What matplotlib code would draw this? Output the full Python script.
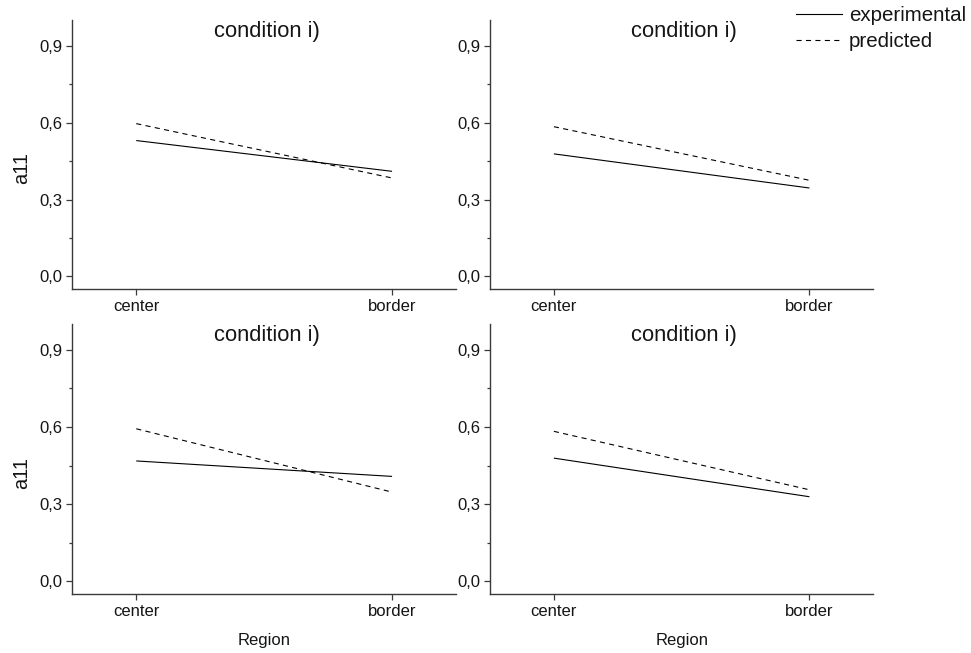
import matplotlib
matplotlib.use("Agg")
import matplotlib.pyplot as plt
from matplotlib.lines import Line2D

plt.rcParams['font.family'] = ['Liberation Sans', 'DejaVu Sans']

regions = ["center", "border"]
panel_titles = ["condition i)", "condition i)", "condition i)", "condition i)"]
experimental = [
    [0.530, 0.410],
    [0.478, 0.345],
    [0.468, 0.408],
    [0.479, 0.329],
]
predicted = [
    [0.596, 0.384],
    [0.584, 0.375],
    [0.593, 0.347],
    [0.583, 0.356],
]
y_major = [0.0, 0.3, 0.6, 0.9]
y_major_labels = ["0,0", "0,3", "0,6", "0,9"]
y_minor = [0.15, 0.45, 0.75]
series_labels = ["experimental", "predicted"]
y_label = "a11"
x_label = "Region"

W, H = 971, 653
fig = plt.figure(figsize=(W / 100, H / 100), dpi=100)

spine_c = "#3a3a3a"
txt_c = "#151515"
# pixel boxes: left, top, right, bottom
boxes = [
    (72.3, 20.0, 456.0, 289.3),
    (490.0, 20.0, 873.3, 289.3),
    (72.3, 324.0, 456.0, 594.3),
    (490.0, 324.0, 873.3, 594.3),
]
dash = (0, (4.6, 3.9))
for i, (l, t, r, b) in enumerate(boxes):
    ax = fig.add_axes([l / W, 1 - b / H, (r - l) / W, (b - t) / H])
    x = list(range(len(regions)))
    ax.plot(x, experimental[i], color="black", lw=0.8, solid_capstyle="butt")
    ax.plot(x, predicted[i], color="black", lw=0.8, linestyle=dash)
    ax.set_xlim(-0.25, 1.25)
    ax.set_ylim(-0.05, 1.0)
    ax.set_xticks(x)
    ax.set_xticklabels(regions)
    ax.set_yticks(y_major)
    ax.set_yticklabels(y_major_labels)
    ax.set_yticks(y_minor, minor=True)
    for s in ["top", "right"]:
        ax.spines[s].set_visible(False)
    for s in ["left", "bottom"]:
        ax.spines[s].set_color(spine_c)
        ax.spines[s].set_linewidth(1.0)
    ax.tick_params(axis="both", which="major", direction="out", length=4.5,
                   width=0.9, color=spine_c, labelsize=12, pad=2.5,
                   labelcolor=txt_c)
    ax.tick_params(axis="y", which="minor", direction="out", length=2.5,
                   width=0.9, color=spine_c)
    ax.text(0.5065, 0.936, panel_titles[i], transform=ax.transAxes,
            ha="center", va="baseline", fontsize=15.8, color=txt_c)
    if i % 2 == 0:
        ax.set_ylabel(y_label, fontsize=14.5, color=txt_c)
        ax.yaxis.set_label_coords(-0.132, 0.45)
        ax.yaxis.label.set_va("center")
    if i >= 2:
        ax.set_xlabel(x_label, fontsize=12, color=txt_c)
        ax.xaxis.set_label_coords(0.5, -0.172)
        ax.xaxis.label.set_va("center")

handles = [Line2D([], [], color="black", lw=0.8),
           Line2D([], [], color="black", lw=0.8, linestyle=dash)]
fig.legend(handles, series_labels, loc="upper right",
           bbox_to_anchor=(966 / W, 1 - 6 / H), frameon=False,
           fontsize=14.8, handlelength=2.2, handletextpad=0.35,
           labelspacing=0.36, borderpad=0, borderaxespad=0,
           labelcolor=txt_c)

fig.savefig("out.png", dpi=100)
